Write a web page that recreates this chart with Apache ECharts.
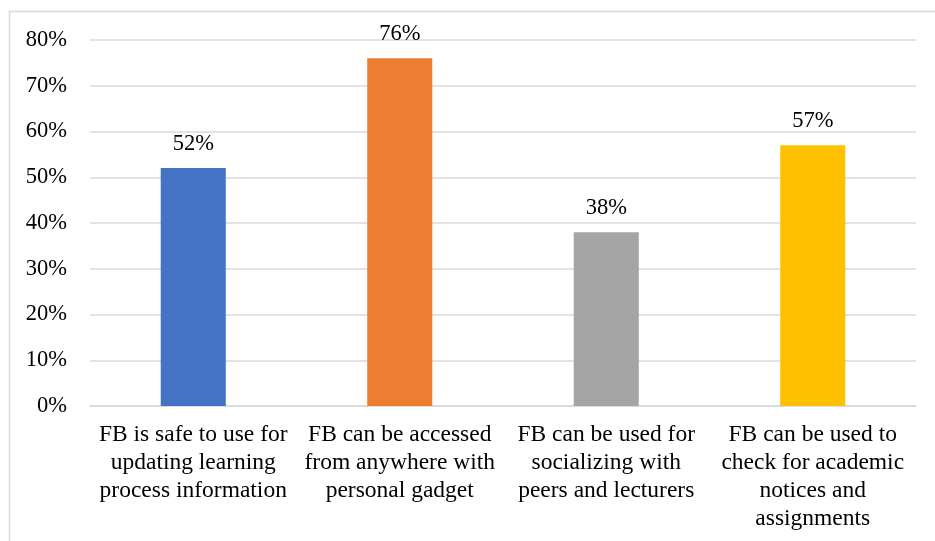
<!DOCTYPE html>
<html>
<head>
<meta charset="utf-8">
<script src="https://cdn.jsdelivr.net/npm/echarts@6/dist/echarts.min.js"></script>
<style>
html,body{margin:0;padding:0;background:#fff;}
#c{width:935px;height:541px;}
</style>
</head>
<body>
<div id="c"></div>
<script>
const categories = [
  "FB is safe to use for\nupdating learning\nprocess information",
  "FB can be accessed\nfrom anywhere with\npersonal gadget",
  "FB can be used for\nsocializing with\npeers and lecturers",
  "FB can be used to\ncheck for academic\nnotices and\nassignments"
];
const values = [52, 76, 38, 57];
const barColors = ["#4472C4", "#ED7D31", "#A5A5A5", "#FFC000"];
const yTicks = [0, 10, 20, 30, 40, 50, 60, 70, 80];

const font = "'Liberation Serif', 'Times New Roman', serif";
const chart = echarts.init(document.getElementById('c'), null, {renderer: 'canvas'});
chart.setOption({
  animation: false,
  backgroundColor: '#fff',
  graphic: [{
    type: 'rect',
    shape: {x: 9.5, y: 11.5, width: 1000, height: 700},
    style: {fill: 'none', stroke: '#d9d9d9', lineWidth: 1.5},
    silent: true
  }],
  grid: {left: 90, right: 19, top: 40, bottom: 135, containLabel: false},
  xAxis: {
    type: 'category',
    data: categories,
    axisTick: {show: false},
    axisLine: {show: true, lineStyle: {color: '#d9d9d9', width: 1.5}},
    axisLabel: {
      interval: 0,
      margin: 15,
      color: '#000',
      fontFamily: font,
      fontSize: 23.5,
      lineHeight: 28
    }
  },
  yAxis: {
    type: 'value',
    min: yTicks[0],
    max: yTicks[yTicks.length - 1],
    interval: 10,
    axisLine: {show: false},
    axisTick: {show: false},
    splitLine: {lineStyle: {color: '#d9d9d9', width: 1.5}},
    axisLabel: {
      margin: 23,
      color: '#000',
      fontFamily: font,
      fontSize: 22.5,
      formatter: v => v + '%'
    }
  },
  series: [{
    type: 'bar',
    barWidth: '31.5%',
    data: values.map((v, i) => ({value: v, itemStyle: {color: barColors[i]}})),
    label: {
      show: true,
      position: 'top',
      distance: 13,
      color: '#000',
      fontFamily: font,
      fontSize: 22.5,
      formatter: p => p.value + '%'
    }
  }]
});
</script>
</body>
</html>
